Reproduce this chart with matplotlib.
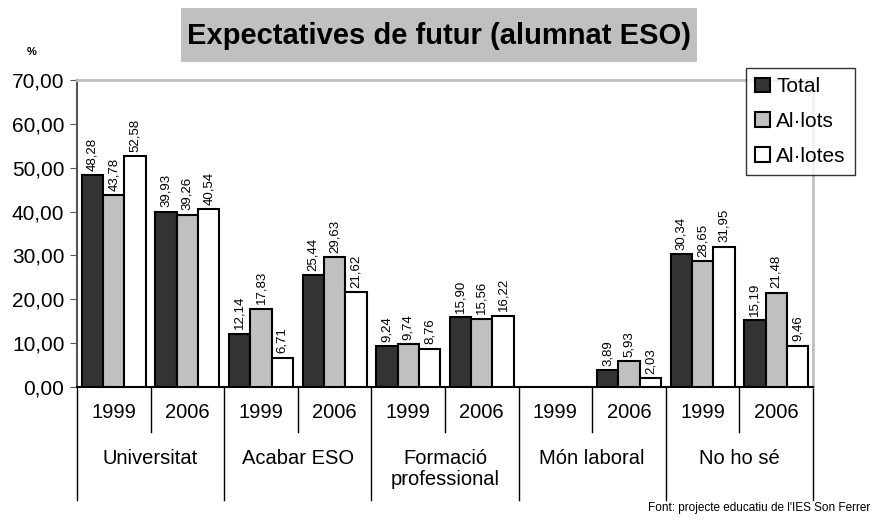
import numpy as np
import matplotlib.pyplot as plt
from matplotlib.patches import Rectangle

# data
groups = ["Universitat", "Acabar ESO", "Formació\nprofessional", "Món laboral", "No ho sé"]
years = ["1999", "2006"]
total = [48.28, 39.93, 12.14, 25.44, 9.24, 15.90, np.nan, 3.89, 30.34, 15.19]
alumnes_m = [43.78, 39.26, 17.83, 29.63, 9.74, 15.56, np.nan, 5.93, 28.65, 21.48]
alumnes_f = [52.58, 40.54, 6.71, 21.62, 8.76, 16.22, np.nan, 2.03, 31.95, 9.46]
series_names = ["Total", "Al·lots", "Al·lotes"]
colors = ["#333333", "#c0c0c0", "#ffffff"]

plt.rcParams["font.family"] = ["Liberation Sans", "DejaVu Sans"]

fig = plt.figure(figsize=(8.74, 5.22), dpi=100)
ax = fig.add_axes([77 / 874, 1 - 387 / 522, 736 / 874, 307 / 522])

n = len(total)
x = np.arange(n) + 0.5
w = 0.29
for k, vals in enumerate([total, alumnes_m, alumnes_f]):
    ax.bar(x + (k - 1) * w, vals, w, color=colors[k], edgecolor="black",
           linewidth=1.5, label=series_names[k], zorder=3)
    for xi, v in zip(x + (k - 1) * w, vals):
        if np.isnan(v):
            continue
        ax.text(xi, v + 1.0, f"{v:.2f}".replace(".", ","), rotation=90,
                ha="center", va="bottom", fontsize=9.5)

ax.set_xlim(0, n)
ax.set_ylim(0, 70)
ax.set_yticks(np.arange(0, 71, 10))
ax.set_yticklabels([f"{v:.2f}".replace(".", ",") for v in np.arange(0, 71, 10)], fontsize=15)
ax.tick_params(axis="y", direction="out", length=5, color="#555555", pad=4)
ax.set_xticks([])

for s in ["top", "right"]:
    ax.spines[s].set_color("#c0c0c0")
    ax.spines[s].set_linewidth(2)
ax.spines["left"].set_color("#555555")
ax.spines["left"].set_linewidth(1.5)
ax.spines["bottom"].set_color("black")
ax.spines["bottom"].set_linewidth(1.5)

# multi-level category axis
trans = ax.get_xaxis_transform()
ax_h = 307
y_short = -45 / ax_h
y_long = -113 / ax_h
for i in range(n + 1):
    ylo = y_long if i % 2 == 0 else y_short
    ax.plot([i, i], [0, ylo], color="black", lw=1, transform=trans, clip_on=False)
for i in range(n):
    ax.text(i + 0.5, -25 / ax_h, years[i % 2], transform=trans, ha="center",
            va="center", fontsize=14.5)
for g, name in enumerate(groups):
    ax.text(2 * g + 1, -62 / ax_h, name, transform=trans, ha="center", va="top",
            fontsize=14.5, linespacing=1.15)

# legend
leg = ax.legend(loc="upper left", bbox_to_anchor=(746 / 874, 1 - 68 / 522),
                bbox_transform=fig.transFigure, fontsize=15, frameon=True,
                fancybox=False, edgecolor="black", handlelength=0.7,
                handleheight=0.7, handletextpad=0.3, borderpad=0.45,
                labelspacing=0.75, borderaxespad=0)
leg.get_frame().set_linewidth(1)
leg.set_zorder(10)

# title in grey box
fig.patches.append(Rectangle((181 / 874, 1 - 62 / 522), 516 / 874, 54 / 522,
                             transform=fig.transFigure, facecolor="#c0c0c0",
                             edgecolor="none", zorder=0))
fig.text(439 / 874, 1 - 36 / 522, "Expectatives de futur (alumnat ESO)",
         ha="center", va="center", fontsize=21, fontweight="bold")

fig.text(32 / 874, 1 - 52 / 522, "%", ha="center", va="center", fontsize=8,
         fontweight="bold")
fig.text(870 / 874, 1 - 508 / 522, "Font: projecte educatiu de l'IES Son Ferrer",
         ha="right", va="center", fontsize=8.5)

fig.savefig("out.png", dpi=100)
